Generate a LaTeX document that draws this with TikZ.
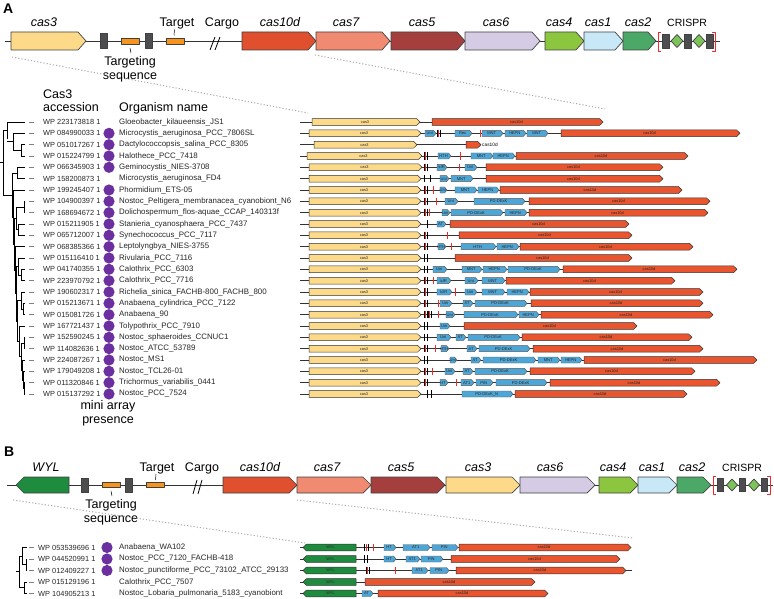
\documentclass[tikz,border=0pt]{standalone}
\usepackage{fontspec}
\setmainfont{Liberation Sans}
\definecolor{cthree}{HTML}{FCDA8A}
\definecolor{cten}{HTML}{E0502F}
\definecolor{ctenS}{HTML}{E8552E}
\definecolor{cseven}{HTML}{F08A70}
\definecolor{cfive}{HTML}{A53F3D}
\definecolor{csix}{HTML}{D5CBE4}
\definecolor{cfour}{HTML}{8CC63F}
\definecolor{cone}{HTML}{C8E8F8}
\definecolor{ctwo}{HTML}{4BA866}
\definecolor{wyl}{HTML}{1F8B3F}
\definecolor{orng}{HTML}{F7941D}
\definecolor{dgrey}{HTML}{4D4D4F}
\definecolor{domc}{HTML}{4EA6D6}
\definecolor{purp}{HTML}{6B2FA0}
\definecolor{rmk}{HTML}{EE2A2A}
\definecolor{crd}{HTML}{7CC35B}
\newcounter{labc}
\newcommand\GeneR[5]{\draw[bigg,fill=#5] (#1,{#3-#4}) -- ({#2-8},{#3-#4}) -- (#2,#3) -- ({#2-8},{#3+#4}) -- (#1,{#3+#4}) -- cycle;}
\newcommand\GeneL[5]{\draw[bigg,fill=#5] (#1,#3) -- ({#1+8},{#3-#4}) -- (#2,{#3-#4}) -- (#2,{#3+#4}) -- ({#1+8},{#3+#4}) -- cycle;}
\newcommand\SGene[5]{\draw[smallg,fill=#4] (#1,{#3-3.4}) -- ({#2-3.5},{#3-3.4}) -- (#2,#3) -- ({#2-3.5},{#3+3.4}) -- (#1,{#3+3.4}) -- cycle;
 \stepcounter{labc}\node[tinyl] (g\thelabc) at ({(#1+#2)/2-1},#3) {#5};}
\newcommand\SGeneL[5]{\draw[smallg,fill=#4] (#1,#3) -- ({#1+3.5},{#3-3.4}) -- (#2,{#3-3.4}) -- (#2,{#3+3.4}) -- ({#1+3.5},{#3+3.4}) -- cycle;
 \stepcounter{labc}\node[tinyl] (g\thelabc) at ({(#1+#2)/2+1},#3) {#5};}
\newcommand\Dom[4]{\draw[domst] (#1,{#3-3}) -- ({#2-2.5},{#3-3}) -- (#2,#3) -- ({#2-2.5},{#3+3}) -- (#1,{#3+3}) -- cycle;
 \stepcounter{labc}\node[tinyd] (d\thelabc) at ({(#1+#2)/2-0.8},#3) {#4};}
\newcommand\RedM[2]{\draw[rmk,line width=1pt] (#1,{#2-3.6}) -- (#1,{#2+3.6});}
\newcommand\BlkM[2]{\draw[black,line width=0.8pt] (#1,{#2-3.6}) -- (#1,{#2+3.6});}
\newcommand\RB[2]{\BlkM{#1}{#2}\RedM{#1+1.6}{#2}\BlkM{#1+3.1}{#2}}
\newcommand\Row[5]{\draw[bbs] (300,#1) -- (#4,#1); \SGene{#2}{#3}{#1}{cthree}{cas3}\SGene{#4}{#5}{#1}{ctenS}{cas10d}}
\newcommand\Clade[4]{\draw[tree] (#1,{(#3+#4)/2}) -- (#2,{(#3+#4)/2}); \draw[tree] (#2,#3) -- (#2,#4);}
\newcommand\Leaf[2]{\draw[tree] (#1,#2) -- (25,#2);}
\newcommand\LeafB[2]{\draw[tree] (#1,#2) -- (27,#2);}
\begin{document}
\begin{tikzpicture}[x=1pt,y=-1pt,line join=round,
  bigg/.style={draw=black!75,line width=0.7pt},
  smallg/.style={draw=black!80,line width=0.5pt},
  domst/.style={draw=black!65,fill=domc,line width=0.45pt},
  bbs/.style={draw=black!80,line width=0.6pt},
  tree/.style={draw=black,line width=0.6pt},
  dotl/.style={draw=gray!65,line width=1pt,dash pattern=on 1.2pt off 2pt},
  tinyl/.style={font=\fontsize{3.9}{4}\selectfont,inner sep=0pt,text=black!85},
  tinyd/.style={font=\fontsize{4.1}{4}\selectfont,inner sep=0pt,text=black!85},
  acc/.style={font=\fontsize{7.4}{8}\selectfont,anchor=west,inner sep=0pt,text=black!85},
  org/.style={font=\fontsize{7.9}{8}\selectfont,anchor=west,inner sep=0pt,text=black!85},
  hdr/.style={font=\fontsize{12.5}{14}\selectfont,anchor=base west,inner sep=0pt},
  ctr/.style={font=\fontsize{12.5}{14}\selectfont,anchor=base,inner sep=0pt},
  glab/.style={font=\fontsize{12.5}{14}\selectfont\itshape,anchor=base,inner sep=0pt},
  clab/.style={font=\fontsize{10.5}{12}\selectfont,anchor=base,inner sep=0pt},
  panel/.style={font=\fontsize{14}{16}\selectfont\bfseries,anchor=base west,inner sep=0pt}]
\useasboundingbox (0,0) rectangle (774,599);

% ================= Panel A =================
\node[panel] (pA) at (3,14) {A};
\draw[bbs,line width=0.8pt] (5,41) -- (720,41);
\GeneR{11}{86}{41}{9}{cthree}
\draw[bigg,fill=dgrey] (100,33.5) rectangle (107,48.5);
\draw[bigg,fill=orng] (121,38.5) rectangle (139,44);
\draw[bigg,fill=dgrey] (145,33.5) rectangle (152,48.5);
\draw[bigg,fill=orng] (166,38.5) rectangle (184,44);
\draw[line width=0.8pt] (210,50) -- (215,37) (215,50) -- (220,37);
\GeneR{242}{316}{41}{9}{cten}
\GeneR{316}{390}{41}{9}{cseven}
\GeneR{391}{465}{41}{9}{cfive}
\GeneR{465}{540}{41}{9}{csix}
\GeneR{545}{584}{41}{9}{cfour}
\GeneR{584}{623}{41}{9}{cone}
\GeneR{623}{656}{41}{9}{ctwo}
\draw[rmk,line width=0.9pt] (661,32) -- (658,32) -- (658,51) -- (661,51);
\draw[rmk,line width=0.9pt] (712,32) -- (715,32) -- (715,51) -- (712,51);
\foreach \xx in {662,684,706}{\draw[bigg,fill=dgrey] (\xx,34) rectangle (\xx+7,48);}
\foreach \xx in {677,699}{\draw[bigg,fill=crd] (\xx,34.5) -- (\xx+6,41) -- (\xx,47.5) -- (\xx-6,41) -- cycle;}
\node[glab] (lA1) at (44,27) {cas3};
\node[ctr] (lA2) at (177,27) {Target};
\node[ctr] (lA3) at (222,27) {Cargo};
\node[glab] (lA4) at (280,27) {cas10d};
\node[glab] (lA5) at (346,27) {cas7};
\node[glab] (lA6) at (422,27) {cas5};
\node[glab] (lA7) at (496,27) {cas6};
\node[glab] (lA8) at (559,27) {cas4};
\node[glab] (lA9) at (598,27) {cas1};
\node[glab] (lA10) at (638,27) {cas2};
\node[clab] (lA11) at (687,27) {CRISPR};
\draw[line width=0.5pt] (174.5,29.5) -- (174,35.5);
\draw[line width=0.5pt] (130,48) -- (131,53);
\node[ctr] (tsA1) at (130,66) {Targeting};
\node[ctr] (tsA2) at (130,80) {sequence};
\draw[dotl] (12,57) -- (308,113);
\draw[dotl] (315,55) -- (605,109);

\node[hdr] (h1) at (43,99) {Cas3};
\node[hdr] (h2) at (43,112) {accession};
\node[hdr] (h3) at (119,112) {Organism name};

% tree A
\draw[tree] (0,162.8) -- (3,162.8); \draw[tree] (3,130.5) -- (3,195);
\Clade{3}{7}{122}{139}\Leaf{7}{122}
\Clade{7}{13}{133.3}{150.3}\Leaf{13}{133.3}
\Clade{13}{21}{144.7}{156}\Leaf{21}{144.7}\Leaf{21}{156}
\Clade{3}{12}{173}{217.1}
\Clade{12}{17}{167.3}{178.7}\Leaf{17}{167.3}\Leaf{17}{178.7}
\Clade{12}{13}{190}{244.3}\Leaf{13}{190}
\Clade{13}{14}{218.3}{270.2}
\Clade{14}{16}{207}{229.7}
\Clade{16}{24}{201.3}{212.7}\Leaf{24}{201.3}\Leaf{24}{212.7}
\Clade{16}{18}{224}{235.3}\Leaf{18}{224}\Leaf{18}{235.3}
\Clade{14}{15}{246.7}{293.7}\Leaf{15}{246.7}
\Clade{15}{16}{266.5}{320.9}
\Clade{16}{18}{258}{275}\Leaf{18}{258}
\Clade{18}{21}{269.3}{280.7}\Leaf{21}{269.3}\Leaf{21}{280.7}
\Clade{16}{17}{300.5}{341.2}
\Clade{17}{21}{292}{309}\Leaf{21}{292}
\Clade{21}{23}{303.3}{314.7}\Leaf{23}{303.3}\Leaf{23}{314.7}
\Clade{17}{19}{326}{356.5}\Leaf{19}{326}
\Clade{19}{21}{343}{369.9}
\Clade{21}{24}{337.3}{348.7}\Leaf{24}{337.3}\Leaf{24}{348.7}
\Clade{21}{22}{360}{379.8}\Leaf{22}{360}
\Clade{22}{23}{371.3}{388.3}\Leaf{23}{371.3}
\Clade{23}{24}{382.7}{394}\Leaf{24}{382.7}\Leaf{24}{394}

\foreach \i/\acc/\org/\dt in {
 1/WP 223173818 1/Gloeobacter\_kilaueensis\_JS1/0,
 2/WP 084990033 1/Microcystis\_aeruginosa\_PCC\_7806SL/1,
 3/WP 051017267 1/Dactylococcopsis\_salina\_PCC\_8305/1,
 4/WP 015224799 1/Halothece\_PCC\_7418/1,
 5/WP 066345903 1/Geminocystis\_NIES-3708/1,
 6/WP 158200873 1/Microcystis\_aeruginosa\_FD4/0,
 7/WP 199245407 1/Phormidium\_ETS-05/1,
 8/WP 104900397 1/Nostoc\_Peltigera\_membranacea\_cyanobiont\_N6/1,
 9/WP 168694672 1/Dolichospermum\_flos-aquae\_CCAP\_140313f/1,
 10/WP 015211905 1/Stanieria\_cyanosphaera\_PCC\_7437/1,
 11/WP 065712007 1/Synechococcus\_PCC\_7117/1,
 12/WP 068385366 1/Leptolyngbya\_NIES-3755/1,
 13/WP 015116410 1/Rivularia\_PCC\_7116/1,
 14/WP 041740355 1/Calothrix\_PCC\_6303/1,
 15/WP 223970792 1/Calothrix\_PCC\_7716/1,
 16/WP 190602317 1/Richelia\_sinica\_FACHB-800\_FACHB\_800/1,
 17/WP 015213671 1/Anabaena\_cylindrica\_PCC\_7122/1,
 18/WP 015081726 1/Anabaena\_90/1,
 19/WP 167721437 1/Tolypothrix\_PCC\_7910/1,
 20/WP 152590245 1/Nostoc\_sphaeroides\_CCNUC1/1,
 21/WP 114082636 1/Nostoc\_ATCC\_53789/1,
 22/WP 224087267 1/Nostoc\_MS1/1,
 23/WP 179049208 1/Nostoc\_TCL26-01/1,
 24/WP 011320846 1/Trichormus\_variabilis\_0441/1,
 25/WP 015137292 1/Nostoc\_PCC\_7524/1}{
 \pgfmathsetmacro\yy{122+(\i-1)*11.333}
 \draw[gray,line width=0.6pt] (29,\yy) -- (34,\yy);
 \ifnum\dt=1 \fill[purp] (109,\yy) circle (5.6pt); \fi
 \node[acc] (accA\i) at (43,\yy) {\acc};
 \node[org] (orgA\i) at (119,\yy) {\org};
}
\node[ctr] (mini1) at (108,409) {mini array};
\node[ctr] (mini2) at (108,423) {presence};

% gene rows A
\Row{122}{312}{420}{432}{603}
\Row{133.3}{309}{421}{561}{740}\Dom{425}{436}{133.3}{Uni}\RB{437}{133.3}\Dom{455}{472}{133.3}{Rec}\RedM{480}{133.3}\Dom{482}{503}{133.3}{MNT}\Dom{505}{526}{133.3}{HEPN}\Dom{527}{548}{133.3}{MNT}
\draw[bbs] (300,144.7) -- (466,144.7); \SGene{314}{417}{144.7}{cthree}{cas3}
\draw[smallg,fill=ctenS] (466,141.3) -- (477.5,141.3) -- (481,144.7) -- (477.5,148.1) -- (466,148.1) -- cycle;
\node[font=\fontsize{4.8}{5}\selectfont,anchor=west,inner sep=0pt] (c10s) at (482,144.7) {cas10d};
\Row{156}{307}{422}{516}{688}\RB{424}{156}\Dom{438}{451}{156}{HTH}\RedM{460}{156}\Dom{471}{493}{156}{MNT}\Dom{493}{515}{156}{HEPN}
\Row{167.3}{309}{422}{486}{663}\RB{424}{167.3}\Dom{437}{447}{167.3}{IclR}\RedM{459}{167.3}\Dom{465}{477}{167.3}{Uni}
\Row{178.7}{309}{421}{486}{663}\BlkM{424}{178.7}\BlkM{430}{178.7}\Dom{440}{449}{178.7}{Uni}\Dom{451}{473}{178.7}{MNT}
\Row{190}{309}{421}{500}{682}\RB{424}{190}\RedM{433}{190}\Dom{440}{447}{190}{Uni}\Dom{455}{477}{190}{MNT}\Dom{478}{499}{190}{HEPN}
\Row{201.3}{309}{421}{529}{710}\RB{424}{201.3}\RedM{436}{201.3}\Dom{445}{458}{201.3}{Uni}\Dom{474}{525}{201.3}{PD-DExK}
\Row{212.7}{309}{421}{529}{708}\RB{424}{212.7}\RedM{429}{212.7}\Dom{442}{450}{212.7}{Uni}\Dom{451}{503}{212.7}{PD-DExK}\Dom{505}{527}{212.7}{HEPN}
\Row{224}{309}{421}{450}{629}\BlkM{427}{224}\Dom{437}{446}{224}{AT}
\Row{235.3}{309}{421}{459}{632}\RB{424}{235.3}\RedM{447}{235.3}
\Row{246.7}{309}{421}{520}{693}\RB{424}{246.7}\Dom{438}{446}{246.7}{HTH}\RedM{451}{246.7}\Dom{461}{496}{246.7}{HTH}\Dom{497}{519}{246.7}{HEPN}
\Row{258}{309}{421}{455}{632}\BlkM{424}{258}\BlkM{427}{258}
\Row{269.3}{309}{421}{563}{737}\BlkM{424}{269.3}\BlkM{427}{269.3}\Dom{433}{447}{269.3}{Uni}\Dom{462}{482}{269.3}{MNT}\Dom{483}{507}{269.3}{HEPN}\Dom{508}{560}{269.3}{PD-DExK}
\Row{280.7}{309}{421}{506}{675}\RB{424}{280.7}\RedM{433}{280.7}\Dom{437}{451}{280.7}{IclR}\Dom{465}{478}{280.7}{Uni}\Dom{482}{505}{280.7}{MNT}
\Row{292}{309}{421}{530}{703}\RB{424}{292}\Dom{437}{452}{292}{IclR}\RedM{455}{292}\Dom{465}{477}{292}{Uni}\Dom{482}{505}{292}{MNT}\Dom{507}{529}{292}{HEPN}
\Row{303.3}{309}{421}{531}{703}\RB{424}{303.3}\RedM{438}{303.3}\Dom{440}{452}{303.3}{Uni}\Dom{463}{473}{303.3}{AT}\Dom{475}{527}{303.3}{PD-DExK}
\Row{314.7}{309}{421}{541}{713}\RB{424}{314.7}\RB{428}{314.7}\RedM{438}{314.7}\Dom{446}{455}{314.7}{Uni}\Dom{464}{518}{314.7}{PD-DExK}\Dom{519}{539}{314.7}{HEPN}
\Row{326}{309}{421}{464}{637}\BlkM{424}{326}\BlkM{427}{326}\Dom{440}{450}{326}{Uni}
\Row{337.3}{309}{421}{522}{692}\BlkM{424}{337.3}\BlkM{427}{337.3}\Dom{437}{451}{337.3}{Uni}\Dom{456}{466}{337.3}{AT}\Dom{468}{520}{337.3}{PD-DExK}
\Row{348.7}{309}{421}{533}{703}\RB{424}{348.7}\RedM{435}{348.7}\Dom{441}{449}{348.7}{HTH}\Dom{467}{477}{348.7}{AT}\Dom{479}{530}{348.7}{PD-DExK}
\Row{360}{309}{421}{584}{757}\BlkM{424}{360}\BlkM{427}{360}\Dom{450}{457}{360}{Uni}\Dom{471}{481}{360}{AT}\Dom{483}{536}{360}{PD-DExK}\Dom{538}{560}{360}{MNT}\Dom{561}{582}{360}{HEPN}
\Row{371.3}{309}{421}{530}{695}\RB{424}{371.3}\RedM{432}{371.3}\Dom{445}{455}{371.3}{Uni}\Dom{463}{473}{371.3}{AT}\Dom{475}{527}{371.3}{PD-DExK}
\Row{382.7}{309}{421}{550}{720}\RB{424}{382.7}\Dom{440}{448}{382.7}{HT}\RedM{456}{382.7}\Dom{461}{474}{382.7}{AT1}\Dom{476}{493}{382.7}{PIN}\Dom{496}{547}{382.7}{PD-DExK}
\Row{394}{309}{421}{515}{687}\BlkM{427}{394}\BlkM{431}{394}\Dom{462}{513}{394}{PD-DExK\_N}

% ================= Panel B =================
\node[panel] (pB) at (4,456) {B};
\draw[bbs,line width=0.8pt] (7,485) -- (773,485);
\GeneL{16}{69}{485}{8}{wyl}
\draw[bigg,fill=dgrey] (81,478) rectangle (88,492);
\draw[bigg,fill=orng] (102,482.5) rectangle (120,487.5);
\draw[bigg,fill=dgrey] (125,478) rectangle (132,492);
\draw[bigg,fill=orng] (146,482.5) rectangle (164,487.5);
\draw[line width=0.8pt] (193,494) -- (197,480) (198,494) -- (202,480);
\GeneR{223}{297}{485}{8}{cten}
\GeneR{297}{371}{485}{8}{cseven}
\GeneR{371}{445}{485}{8}{cfive}
\GeneR{446}{520}{485}{8}{cthree}
\GeneR{520}{595}{485}{8}{csix}
\GeneR{599}{638}{485}{8}{cfour}
\GeneR{638}{677}{485}{8}{cone}
\GeneR{677}{711}{485}{8}{ctwo}
\draw[rmk,line width=0.9pt] (716,476) -- (713,476) -- (713,494) -- (716,494);
\draw[rmk,line width=0.9pt] (767,476) -- (770,476) -- (770,494) -- (767,494);
\foreach \xx in {717,739,761}{\draw[bigg,fill=dgrey] (\xx,478.5) rectangle (\xx+6.5,491.5);}
\foreach \xx in {732,754}{\draw[bigg,fill=crd] (\xx,479) -- (\xx+5.5,485) -- (\xx,491) -- (\xx-5.5,485) -- cycle;}
\node[glab] (lB1) at (46,471) {WYL};
\node[ctr] (lB2) at (157,471) {Target};
\node[ctr] (lB3) at (202,471) {Cargo};
\node[glab] (lB4) at (260,471) {cas10d};
\node[glab] (lB5) at (327,471) {cas7};
\node[glab] (lB6) at (401,471) {cas5};
\node[glab] (lB7) at (478,471) {cas3};
\node[glab] (lB8) at (550,471) {cas6};
\node[glab] (lB9) at (613,471) {cas4};
\node[glab] (lB10) at (652,471) {cas1};
\node[glab] (lB11) at (692,471) {cas2};
\node[clab] (lB12) at (742,471) {CRISPR};
\draw[line width=0.5pt] (156,474) -- (155.5,480);
\draw[line width=0.5pt] (111,491) -- (112,496);
\node[ctr] (tsB1) at (111,508) {Targeting};
\node[ctr] (tsB2) at (111,522) {sequence};
\draw[dotl] (13,500) -- (305,543);
\draw[dotl] (297,500) -- (633,538);

% tree B
\draw[tree] (16,571.4) -- (19,571.4); \draw[tree] (19,555.6) -- (19,587.25);
\Clade{19}{22}{547.5}{564.75}\LeafB{22}{547.5}
\Clade{22}{26}{559}{570.5}\LeafB{26}{559}\LeafB{26}{570.5}
\Clade{19}{24}{582}{593.5}\LeafB{24}{582}\LeafB{24}{593.5}
\foreach \i/\acc/\org/\dt in {
 1/WP 053539696 1/Anabaena\_WA102/1,
 2/WP 044520991 1/Nostoc\_PCC\_7120\_FACHB-418/1,
 3/WP 012409227 1/Nostoc\_punctiforme\_PCC\_73102\_ATCC\_29133/1,
 4/WP 015129196 1/Calothrix\_PCC\_7507/0,
 5/WP 104905213 1/Nostoc\_Lobaria\_pulmonaria\_5183\_cyanobiont/0}{
 \pgfmathsetmacro\yy{547.5+(\i-1)*11.5}
 \draw[gray,line width=0.6pt] (29,\yy) -- (34,\yy);
 \ifnum\dt=1 \fill[purp] (107,\yy) circle (5.6pt); \fi
 \node[acc] (accB\i) at (38,\yy) {\acc};
 \node[org] (orgB\i) at (119,\yy) {\org};
}

% gene rows B
\draw[bbs] (300,547.5) -- (459,547.5); \SGeneL{303}{356}{547.5}{wyl}{WYL}
\BlkM{364}{547.5}\RedM{366}{547.5}\BlkM{368}{547.5}\RedM{373}{547.5}
\Dom{384}{396}{547.5}{HT}\Dom{403}{430}{547.5}{AT1}\Dom{432}{458}{547.5}{PIN}\SGene{459}{631}{547.5}{ctenS}{cas10d}
\draw[bbs] (300,559) -- (451,559); \SGeneL{303}{356}{559}{wyl}{WYL}
\BlkM{364}{559}\BlkM{367}{559}
\Dom{384}{396}{559}{HT}\Dom{406}{420}{559}{AT1}\Dom{421}{443}{559}{PIN}\SGene{451}{620}{559}{ctenS}{cas10d}
\draw[bbs] (300,570.5) -- (632,570.5); \SGeneL{303}{356}{570.5}{wyl}{WYL}
\RB{366}{570.5}\RedM{395}{570.5}
\Dom{412}{428}{570.5}{AT1}\Dom{430}{449}{570.5}{PIN}\SGene{456}{626}{570.5}{ctenS}{cas10d}
\draw[bbs] (300,582) -- (365,582); \SGeneL{303}{356}{582}{wyl}{WYL}
\SGene{365}{535}{582}{ctenS}{cas10d}
\draw[bbs] (300,593.5) -- (378,593.5); \SGeneL{303}{356}{593.5}{wyl}{WYL}
\Dom{362}{373}{593.5}{AT}
\SGene{378}{548}{593.5}{ctenS}{cas10d}
\end{tikzpicture}
\end{document}
